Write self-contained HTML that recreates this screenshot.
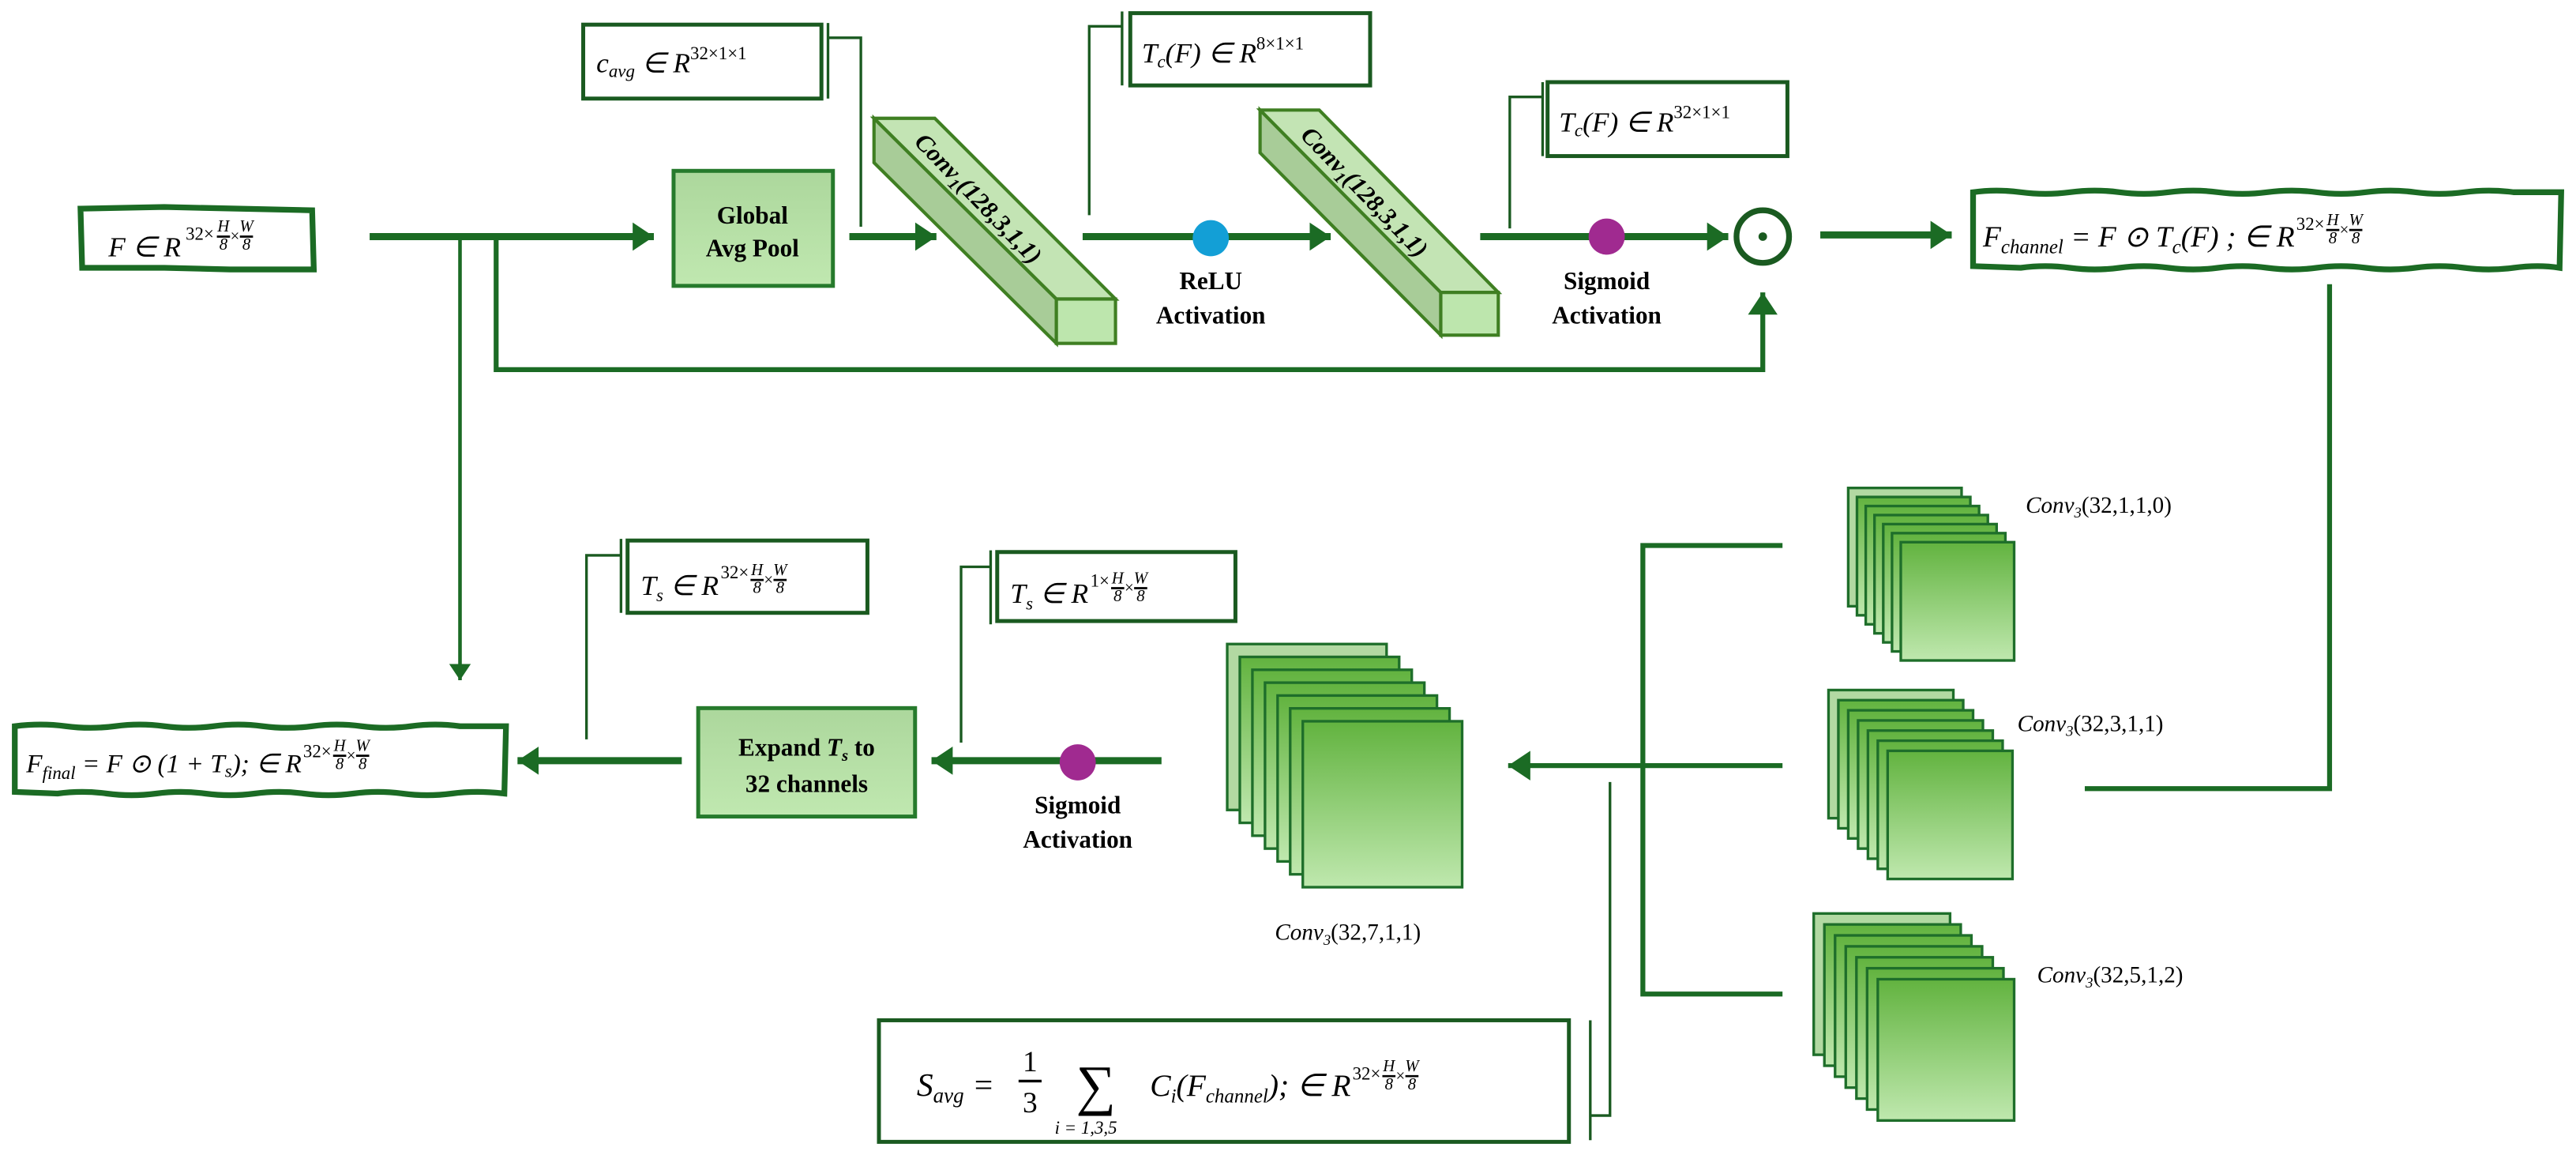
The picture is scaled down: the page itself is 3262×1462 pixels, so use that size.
<!DOCTYPE html>
<html><head><meta charset="utf-8">
<style>
html,body{margin:0;padding:0;background:#fff;}
svg{display:block;}
.m{font-family:"Liberation Serif",serif;font-style:italic;fill:#000;}
.b{font-family:"Liberation Serif",serif;font-weight:bold;fill:#000;}
</style></head>
<body>
<svg id="s" width="3262" height="1462" viewBox="0 0 1568 703" preserveAspectRatio="none" xmlns="http://www.w3.org/2000/svg">
<defs>
<linearGradient id="gb" x1="0" y1="0" x2="0" y2="1"><stop offset="0" stop-color="#acd79c"/><stop offset="1" stop-color="#c0e8b0"/></linearGradient>
<linearGradient id="gs" x1="0" y1="0" x2="0" y2="1"><stop offset="0" stop-color="#62b33f"/><stop offset="1" stop-color="#bfe8ae"/></linearGradient>
<marker id="ah" markerWidth="4" markerHeight="4" refX="3" refY="2" orient="auto" markerUnits="strokeWidth"><path d="M0,0 L3,2 L0,4 z" fill="#1b6b24"/></marker>
<marker id="ah2" markerWidth="6" markerHeight="6" refX="4.5" refY="3" orient="auto" markerUnits="strokeWidth"><path d="M0,0 L4.5,3 L0,6 z" fill="#1b6b24"/></marker>
</defs>
<g stroke="#1b6b24" fill="none" stroke-linecap="butt">
<path d="M225,144 H398" stroke-width="4.3" marker-end="url(#ah)"/>
<path d="M280,144 V414" stroke-width="2.2" marker-end="url(#ah2)" />
<path d="M302,144 V225 H1073 V178" stroke-width="3" marker-end="url(#ah2)"/>
<path d="M517,144 H570" stroke-width="4.3" marker-end="url(#ah)"/>
<path d="M659,144 H810" stroke-width="4.3" marker-end="url(#ah)"/>
<path d="M901,144 H1052" stroke-width="4.3" marker-end="url(#ah)"/>
<path d="M1108,143 H1188" stroke-width="4.3" marker-end="url(#ah)"/>
<path d="M1418,173 V480 H1269" stroke-width="3"/>
<path d="M1085,332 H1000 V605 H1085" stroke-width="3"/>
<path d="M1085,466 H918" stroke-width="3" marker-end="url(#ah2)"/>
<path d="M707,463 H567" stroke-width="4.3" marker-end="url(#ah)"/>
<path d="M415,463 H315" stroke-width="4.3" marker-end="url(#ah)"/>
<g stroke-width="1.6" stroke="#1a5a20">
<path d="M504,14 V60 M504,23 H524 V138"/>
<path d="M683,7 V52 M683,16 H663 V131"/>
<path d="M939,50 V95 M939,59 H919 V139"/>
<path d="M378,328 V373 M378,338 H357 V450"/>
<path d="M603,335 V380 M603,345 H585 V452"/>
<path d="M980,476 V679 H968 M968,621 V694"/>
</g>
</g>
<g fill="#fff" stroke="#1a5a20" stroke-width="2.4">
<rect x="355" y="15" width="145" height="45"/>
<rect x="688" y="8" width="146" height="44"/>
<rect x="942" y="50" width="146" height="45"/>
<rect x="382" y="329" width="146" height="44"/>
<rect x="607" y="336" width="145" height="42"/>
<rect x="535" y="621" width="420" height="74"/>
</g>
<path d="M49,127 L100,126 L190,128 L191,164 L140,164 L100,163 L50,163 Z" fill="#fff" stroke="#1b6b24" stroke-width="3.5"/>
<path d="M1201,117 Q1215,115 1230,117 T1260,117 T1290,117 T1320,117 T1350,117 T1380,117 T1410,117 T1440,117 T1470,117 T1500,117 T1530,117 L1559,117 L1558,163 Q1545,161 1530,163 T1500,163 T1470,163 T1440,163 T1410,163 T1380,163 T1350,163 T1320,163 T1290,163 T1260,163 T1230,163 L1201,162 Z" fill="#fff" stroke="#1b6b24" stroke-width="3.5"/>
<path d="M9,442 Q25,440 40,442 T70,442 T100,442 T130,442 T160,442 T190,442 T220,442 T250,442 T280,442 L308,442 L307,483 Q290,481 275,483 T245,483 T215,483 T185,483 T155,483 T125,483 T95,483 T65,483 T35,483 L9,482 Z" fill="#fff" stroke="#1b6b24" stroke-width="3.5"/>
<rect x="410" y="104" width="97" height="70" fill="url(#gb)" stroke="#267a2c" stroke-width="2.4"/>
<rect x="425" y="431" width="132" height="66" fill="url(#gb)" stroke="#267a2c" stroke-width="2.4"/>
<g stroke="#3f7f22" stroke-width="2" stroke-linejoin="miter">
<path d="M532,72 L643,182 L643,209 L532,99 Z" fill="#a8cc98"/>
<path d="M532,72 L569,72 L679,182 L643,182 Z" fill="#c3e4b4"/>
<rect x="643" y="182" width="36" height="27" fill="#bde6ad"/>
<path d="M767,67 L877,178 L877,204 L767,93 Z" fill="#a8cc98"/>
<path d="M767,67 L803,67 L912,178 L877,178 Z" fill="#c3e4b4"/>
<rect x="877" y="178" width="35" height="26" fill="#bde6ad"/>
</g>
<text class="m" font-weight="bold" font-size="15" transform="translate(556,87) rotate(46)">Conv<tspan font-size="10" dy="3">1</tspan><tspan dy="-3">(128,3,1,1)</tspan></text>
<text class="m" font-weight="bold" font-size="15" transform="translate(791,83) rotate(46)">Conv<tspan font-size="10" dy="3">1</tspan><tspan dy="-3">(128,3,1,1)</tspan></text>
<circle cx="737" cy="145" r="11" fill="#139fd6"/>
<circle cx="978" cy="144" r="11" fill="#a02a90"/>
<circle cx="656" cy="464" r="11" fill="#a02a90"/>
<circle cx="1073" cy="144" r="16" fill="#fff" stroke="#1a5a20" stroke-width="3.5"/>
<circle cx="1073" cy="144" r="2.6" fill="#1a5a20"/>
<g id="stacks"></g>
<g class="b" font-size="15" text-anchor="middle">
<text x="458" y="136">Global</text><text x="458" y="156">Avg Pool</text>
<text x="737" y="176">ReLU</text><text x="737" y="197">Activation</text>
<text x="978" y="176">Sigmoid</text><text x="978" y="197">Activation</text>
<text x="656" y="495">Sigmoid</text><text x="656" y="516">Activation</text>
<text x="491" y="460">Expand <tspan font-style="italic">T</tspan><tspan font-size="10" dy="3" font-style="italic">s</tspan><tspan dy="-3"> to</tspan></text>
<text x="491" y="482">32 channels</text>
</g>
<g class="m" font-size="17">
<text x="66" y="156">F ∈ R</text>
<text x="113" y="146" font-size="11" font-style="normal">32×</text>
<text x="363" y="44">c<tspan font-size="11" dy="3">avg</tspan><tspan dy="-3"> ∈ R</tspan><tspan font-size="11" dy="-8" font-style="normal">32×1×1</tspan></text>
<text x="695" y="38">T<tspan font-size="11" dy="3">c</tspan><tspan dy="-3">(F) ∈ R</tspan><tspan font-size="11" dy="-8" font-style="normal">8×1×1</tspan></text>
<text x="949" y="80">T<tspan font-size="11" dy="3">c</tspan><tspan dy="-3">(F) ∈ R</tspan><tspan font-size="11" dy="-8" font-style="normal">32×1×1</tspan></text>
<text x="1207" y="150" font-size="18">F<tspan font-size="12" dy="4">channel</tspan><tspan dy="-4"> = F ⊙ T</tspan><tspan font-size="12" dy="4">c</tspan><tspan dy="-4">(F) ; ∈ R</tspan></text>
<text x="16" y="470" font-size="16">F<tspan font-size="11" dy="4">final</tspan><tspan dy="-4"> = F ⊙ (1 + T</tspan><tspan font-size="11" dy="3">s</tspan><tspan dy="-3">); ∈ R</tspan></text>
<text x="390" y="362">T<tspan font-size="11" dy="4">s</tspan><tspan dy="-4"> ∈ R</tspan></text>
<text x="615" y="367">T<tspan font-size="11" dy="4">s</tspan><tspan dy="-4"> ∈ R</tspan></text>
<text x="558" y="667" font-size="20">S<tspan font-size="13" dy="4">avg</tspan><tspan dy="-4"> = </tspan></text>
<text x="655" y="672" font-size="34" font-style="normal">∑</text>
<text x="642" y="690" font-size="11">i = 1,3,5</text>
<text x="700" y="667" font-size="19">C<tspan font-size="12" dy="4">i</tspan><tspan dy="-4">(F</tspan><tspan font-size="12" dy="4">channel</tspan><tspan dy="-4">); ∈ R</tspan></text>
<text x="1233" y="312" font-size="14">Conv<tspan font-size="9" dy="3">3</tspan><tspan dy="-3" font-style="normal">(32,1,1,0)</tspan></text>
<text x="1228" y="445" font-size="14">Conv<tspan font-size="9" dy="3">3</tspan><tspan dy="-3" font-style="normal">(32,3,1,1)</tspan></text>
<text x="1240" y="598" font-size="14">Conv<tspan font-size="9" dy="3">3</tspan><tspan dy="-3" font-style="normal">(32,5,1,2)</tspan></text>
<text x="776" y="572" font-size="14">Conv<tspan font-size="9" dy="3">3</tspan><tspan dy="-3" font-style="normal">(32,7,1,1)</tspan></text>
</g>
<g id="fr"></g>
</svg>
<script>
var NS="http://www.w3.org/2000/svg";
function el(p,t,a){var e=document.createElementNS(NS,t);for(var k in a)e.setAttribute(k,a[k]);p.appendChild(e);return e;}
var st=document.getElementById('stacks');
[[1125,297,1157,330,69,72],[1113,420,1149,457,76,78],[1104,556,1143,596,83,86],[747,392,793,439,97,101]].forEach(function(s){
 for(var i=0;i<7;i++){var x=s[0]+(s[2]-s[0])*i/6,y=s[1]+(s[3]-s[1])*i/6;
 el(st,'rect',{x:x,y:y,width:s[4],height:s[5],fill:i==0?'#b2d9a2':'url(#gs)',stroke:'#1e6e2a','stroke-width':1.6});}
});
var fr=document.getElementById('fr');
function frac(x,y,fs){
 var t=function(tx,ty,s){var e=el(fr,'text',{x:tx,y:ty,'font-size':fs,'text-anchor':'middle','class':'m'});e.textContent=s;};
 t(x,y-12,'H');el(fr,'line',{x1:x-4,y1:y-9,x2:x+4,y2:y-9,stroke:'#000','stroke-width':1.3});
 var e=el(fr,'text',{x:x,y:y-1,'font-size':fs,'text-anchor':'middle','class':'m'});e.textContent='8';e.setAttribute('font-style','normal');
 var m=el(fr,'text',{x:x+7,y:y-6,'font-size':fs,'text-anchor':'middle','font-family':'Liberation Serif'});m.textContent='×';
 t(x+14,y-12,'W');el(fr,'line',{x1:x+10,y1:y-9,x2:x+18,y2:y-9,stroke:'#000','stroke-width':1.3});
 var e2=el(fr,'text',{x:x+14,y:y-1,'font-size':fs,'text-anchor':'middle','class':'m'});e2.textContent='8';e2.setAttribute('font-style','normal');
}
function sup(x,y,s){var e=el(fr,'text',{x:x,y:y,'font-size':11,'font-family':'Liberation Serif'});e.textContent=s;return e;}
frac(136,153,10);
var all=[].slice.call(document.querySelectorAll('text'));
function after(txt,s,dy){var b=txt.getBBox();var e=sup(b.x+b.width+1,dy,s);var bb=e.getBBox();return bb.x+bb.width+5;}
function find(str){return all.filter(function(t){return t.textContent.indexOf(str)===0;})[0];}
var a=find('Fchannel');if(a){frac(after(a,'32×',140),149,10);}
a=find('Ffinal');if(a){frac(after(a,'32×',461),469,10);}
var ts=all.filter(function(t){return t.textContent.indexOf('Ts ∈')===0;});
if(ts[0])frac(after(ts[0],'32×',352),362,10);
if(ts[1])frac(after(ts[1],'1×',357),367,10);
a=find('Ci(');if(a){frac(after(a,'32×',657),664,10);}
var one=el(fr,'text',{x:627,y:652,'font-size':18,'text-anchor':'middle','font-family':'Liberation Serif'});one.textContent='1';
el(fr,'line',{x1:620,y1:658,x2:634,y2:658,stroke:'#000','stroke-width':1.6});
var th=el(fr,'text',{x:627,y:677,'font-size':18,'text-anchor':'middle','font-family':'Liberation Serif'});th.textContent='3';
</script>
</body></html>
